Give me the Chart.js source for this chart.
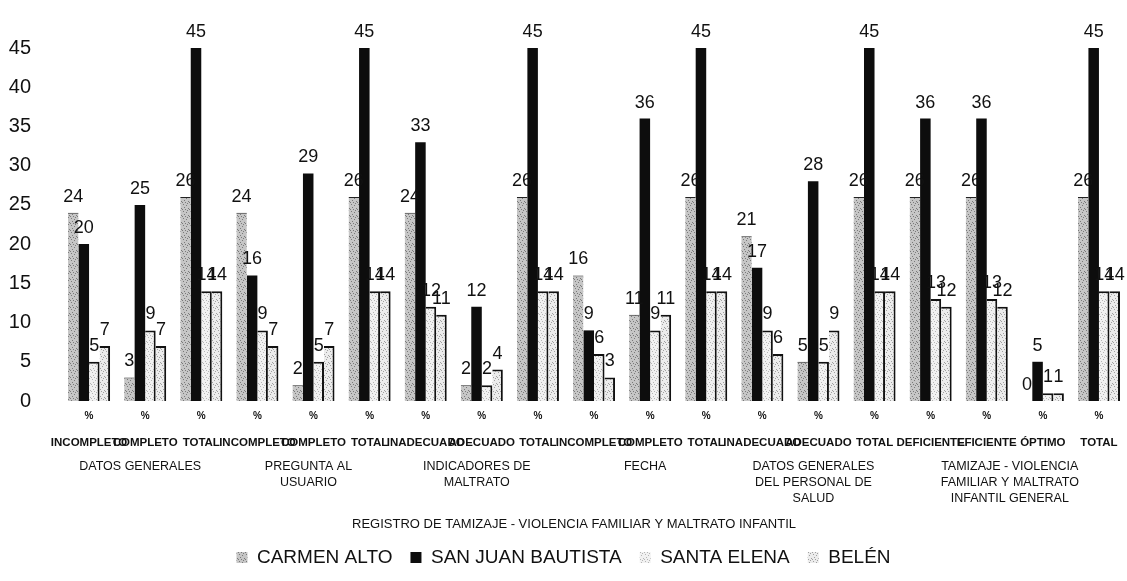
<!DOCTYPE html>
<html>
<head>
<meta charset="utf-8">
<script src="https://cdn.jsdelivr.net/npm/chart.js@4/dist/chart.umd.min.js"></script>
<style>
  body { margin: 0; background: #fff; }
</style>
</head>
<body>
<canvas id="myChart" width="1127" height="581"></canvas>
<script>
'use strict';

let categories = ['INCOMPLETO', 'COMPLETO', 'TOTAL', 'INCOMPLETO', 'COMPLETO', 'TOTAL', 'INADECUADO', 'ADECUADO', 'TOTAL', 'INCOMPLETO', 'COMPLETO', 'TOTAL', 'INADECUADO', 'ADECUADO', 'TOTAL', 'DEFICIENTE', 'EFICIENTE', 'ÓPTIMO', 'TOTAL'];
let groups = [
    { name: ['DATOS GENERALES'], from: 0, to: 2 },
    { name: ['PREGUNTA AL', 'USUARIO'], from: 3, to: 5 },
    { name: ['INDICADORES DE', 'MALTRATO'], from: 6, to: 8 },
    { name: ['FECHA'], from: 9, to: 11 },
    { name: ['DATOS GENERALES', 'DEL PERSONAL DE', 'SALUD'], from: 12, to: 14 },
    { name: ['TAMIZAJE - VIOLENCIA', 'FAMILIAR Y MALTRATO', 'INFANTIL GENERAL'], from: 15, to: 18 }
];
let axisTitle = 'REGISTRO DE TAMIZAJE - VIOLENCIA FAMILIAR Y MALTRATO INFANTIL';

let carmenAlto = [24, 3, 26, 24, 2, 26, 24, 2, 26, 16, 11, 26, 21, 5, 26, 26, 26, 0, 26];
let sanJuan = [20, 25, 45, 16, 29, 45, 33, 12, 45, 9, 36, 45, 17, 28, 45, 36, 36, 5, 45];
let santaElena = [5, 9, 14, 9, 5, 14, 12, 2, 14, 6, 9, 14, 9, 5, 14, 13, 13, 1, 14];
let belen = [7, 7, 14, 7, 7, 14, 11, 4, 14, 3, 11, 14, 6, 9, 14, 12, 12, 1, 14];

let yTicks = [0, 5, 10, 15, 20, 25, 30, 35, 40, 45];

let fontName = '"Liberation Sans", Arial, sans-serif';

// stipple fill like the scanned original
function stipple(base, dot) {
    let c = document.createElement('canvas');
    c.width = 7;
    c.height = 7;
    let g = c.getContext('2d');
    g.fillStyle = base;
    g.fillRect(0, 0, 7, 7);
    g.fillStyle = dot;
    [[1, 1], [4, 2], [2, 4], [6, 5], [5, 0], [0, 6], [3, 6]].forEach(p => g.fillRect(p[0], p[1], 1, 1));
    return g.createPattern(c, 'repeat');
}

// numbers above each bar
let valueLabels = {
    id: 'valueLabels',
    afterDatasetsDraw(chart) {
        let ctx = chart.ctx;
        ctx.save();
        ctx.font = '18px ' + fontName;
        ctx.fillStyle = '#111';
        ctx.textAlign = 'center';
        ctx.textBaseline = 'bottom';
        chart.data.datasets.forEach((ds, i) => {
            chart.getDatasetMeta(i).data.forEach((bar, j) => {
                ctx.fillText(ds.data[j], bar.x, bar.y - 7);
            });
        });
        ctx.restore();
    }
};

// multi level category axis
let axisLabels = {
    id: 'axisLabels',
    afterDraw(chart) {
        let ctx = chart.ctx;
        let x = chart.scales.x;
        let bottom = chart.chartArea.bottom;
        ctx.save();
        ctx.fillStyle = '#111';
        ctx.textAlign = 'center';
        ctx.textBaseline = 'middle';
        ctx.font = 'bold 10px ' + fontName;
        for (let i = 0; i < categories.length; i++) {
            ctx.fillText('%', x.getPixelForValue(i), bottom + 15);
        }
        ctx.font = 'bold 11.5px ' + fontName;
        for (let i = 0; i < categories.length; i++) {
            ctx.fillText(categories[i], x.getPixelForValue(i), bottom + 42);
        }
        ctx.font = '12.5px ' + fontName;
        groups.forEach(g => {
            let cx = (x.getPixelForValue(g.from) + x.getPixelForValue(g.to)) / 2 - 5;
            g.name.forEach((line, k) => {
                ctx.fillText(line, cx, bottom + 66 + k * 16);
            });
        });
        ctx.font = '13px ' + fontName;
        ctx.fillText(axisTitle, (chart.chartArea.left + chart.chartArea.right) / 2 - 20, bottom + 123);
        ctx.restore();
    }
};

let ctx = document.getElementById('myChart').getContext('2d');
let myChart = new Chart(ctx, {
    type: 'bar',
    data: {
        labels: categories,
        datasets: [{
            label: 'CARMEN ALTO',
            data: carmenAlto,
            backgroundColor: stipple('#c6c6c6', '#7a7a7a'),
            borderColor: '#222',
            borderWidth: { top: 1, right: 0, left: 0, bottom: 0 },
            borderSkipped: false
        }, {
            label: 'SAN JUAN BAUTISTA',
            data: sanJuan,
            backgroundColor: '#0d0d0d',
            borderWidth: 0
        }, {
            label: 'SANTA ELENA',
            data: santaElena,
            backgroundColor: stipple('#f1f1f1', '#b5b5b5'),
            borderColor: '#111',
            borderWidth: { top: 2, right: 2, left: 0, bottom: 0 },
            borderSkipped: false
        }, {
            label: 'BELÉN',
            data: belen,
            backgroundColor: stipple('#ececec', '#a0a0a0'),
            borderColor: '#111',
            borderWidth: { top: 2, right: 2, left: 0, bottom: 0 },
            borderSkipped: false
        }]
    },
    options: {
        responsive: false,
        animation: false,
        devicePixelRatio: 1,
        layout: { padding: { top: 48, left: 0, right: 0, bottom: 4 } },
        datasets: {
            bar: { categoryPercentage: 0.75, barPercentage: 1 }
        },
        scales: {
            x: {
                grid: { display: false },
                border: { display: false },
                ticks: { display: false },
                afterFit(scale) { scale.height = 129; }
            },
            y: {
                min: 0,
                max: 45,
                grid: { display: false },
                border: { display: false },
                afterBuildTicks(scale) { scale.ticks = yTicks.map(v => ({ value: v })); },
                ticks: {
                    color: '#111',
                    padding: 22,
                    font: { size: 20, family: fontName }
                },
                afterFit(scale) { scale.width = 61; }
            }
        },
        plugins: {
            tooltip: { enabled: false },
            legend: {
                position: 'bottom',
                labels: {
                    color: '#111',
                    boxWidth: 11,
                    boxHeight: 11,
                    padding: 18,
                    font: { size: 19, family: fontName },
                    generateLabels(chart) {
                        return Chart.defaults.plugins.legend.labels.generateLabels(chart).map(l => {
                            l.lineWidth = 0;
                            return l;
                        });
                    }
                }
            }
        }
    },
    plugins: [valueLabels, axisLabels]
});
</script>
</body>
</html>
